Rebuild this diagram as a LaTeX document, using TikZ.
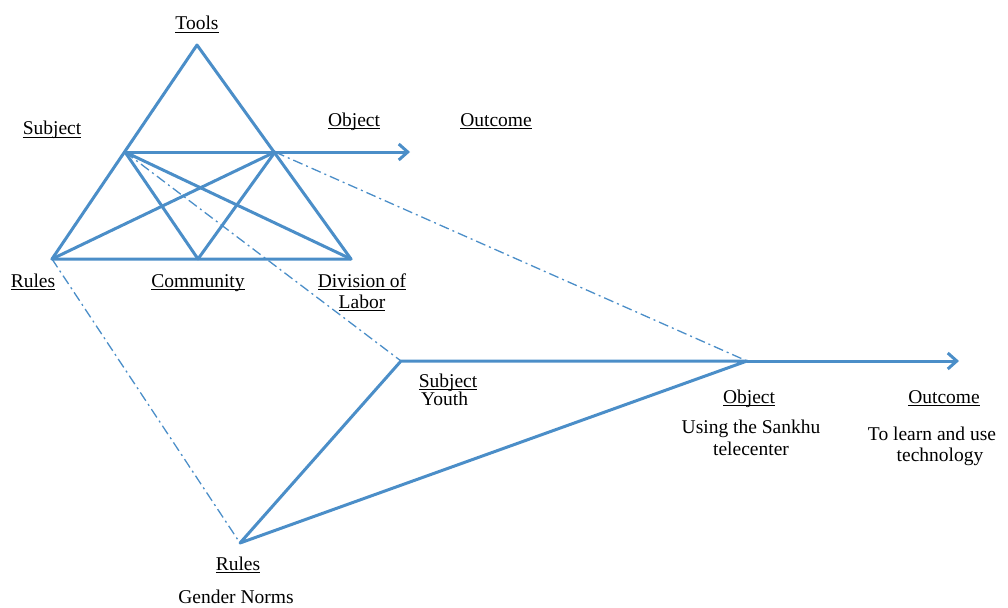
\documentclass[tikz,border=0pt]{standalone}
\usepackage{fontspec}
\setmainfont{Liberation Serif}
\usetikzlibrary{arrows.meta}
\definecolor{lineblue}{RGB}{75,142,200}
\newcommand\uln[1]{\setbox0\hbox{#1}\makebox[0pt][l]{\rule[-2.6pt]{\wd0}{0.9pt}}\box0}
\tikzset{
  main/.style={draw=lineblue, line width=3pt, line join=round, line cap=round},
  arr/.style={main, -{Straight Barb[length=9pt,width=16pt]}},
  dashdot/.style={draw=lineblue, line width=1.3pt, dash pattern=on 10pt off 4pt on 2pt off 4pt},
  lbl/.style={anchor=base, inner sep=0pt, font=\fontsize{19.5}{22}\selectfont}
}
\begin{document}
\begin{tikzpicture}[x=1pt,y=-1pt]
\useasboundingbox (0,0) rectangle (1008,607);
% points
\coordinate (tools) at (197,45);
\coordinate (subj) at (125,152);
\coordinate (obj) at (275,152);
\coordinate (rules) at (52,259);
\coordinate (comm) at (198,259);
\coordinate (div) at (351,259);
\coordinate (out) at (410,152);
\coordinate (lsubj) at (401,361);
\coordinate (lobj) at (747,361);
\coordinate (lrules) at (240,543);
\coordinate (lout) at (959,361);
% dash-dot projections
\draw[dashdot] (subj) -- (lsubj);
\draw[dashdot] (obj) -- (lobj);
\draw[dashdot] (rules) -- (lrules);
% top triangle
\draw[main] (tools) -- (rules) -- (div) -- cycle;
\draw[main] (subj) -- (comm);
\draw[main] (subj) -- (div);
\draw[main] (obj) -- (comm);
\draw[main] (obj) -- (rules);
\draw[arr] (subj) -- (out);
% lower triangle
\draw[main] (lobj) -- (lsubj) -- (lrules) -- (lobj);
\draw[arr] (lobj) -- (lout);
% labels top
\node[lbl] (tTools) at (197,30) {\uln{Tools}};
\node[lbl] (tSubj) at (52,135) {\uln{Subject}};
\node[lbl] (tObj) at (354,126) {\uln{Object}};
\node[lbl] (tOut) at (496,126) {\uln{Outcome}};
\node[lbl] (tRules) at (33,287) {\uln{Rules}};
\node[lbl] (tComm) at (198,287) {\uln{Community}};
\node[lbl] (tDiv) at (362,287) {\uln{Division of}};
\node[lbl] (tLab) at (362,308) {\uln{Labor}};
% labels lower
\node[lbl] (bSubj) at (448,387) {\uln{Subject}};
\node[lbl,anchor=base west] (bYouth) at (421,405) {Youth};
\node[lbl] (bObj) at (749,403) {\uln{Object}};
\node[lbl] (bUse) at (751,433) {Using the Sankhu};
\node[lbl] (bTele) at (751,455) {telecenter};
\node[lbl] (bOut) at (944,403) {\uln{Outcome}};
\node[lbl] (bLearn) at (932,440) {To learn and use};
\node[lbl] (bTech) at (940,461) {technology};
\node[lbl] (bRules) at (238,570) {\uln{Rules}};
\node[lbl] (bGender) at (236,603) {Gender Norms};
\end{tikzpicture}
\end{document}
